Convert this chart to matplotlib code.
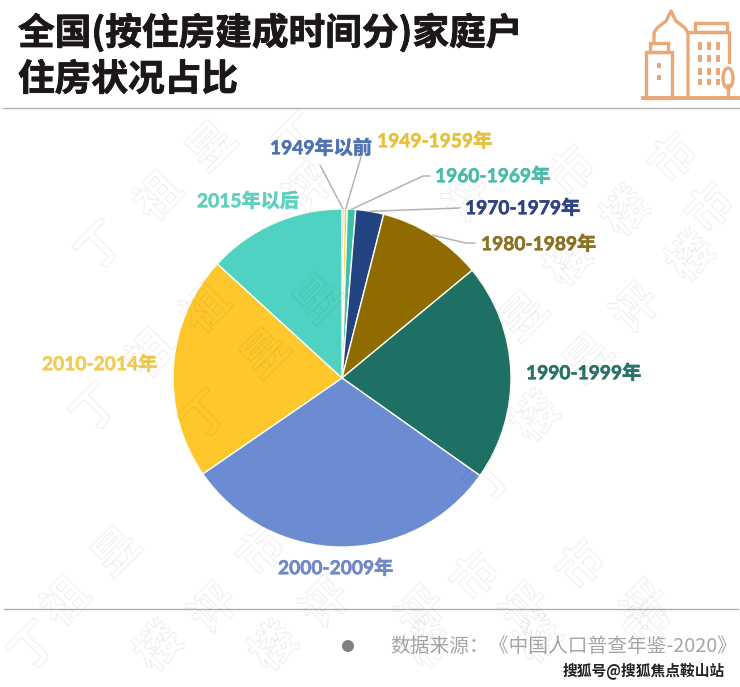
import numpy as np
import matplotlib
matplotlib.use("Agg")
import matplotlib.pyplot as plt
import matplotlib.patheffects as pe
from matplotlib.patches import Rectangle, Ellipse, Circle

plt.rcParams['font.family'] = ['Lato', 'Noto Sans CJK SC', 'DejaVu Sans']

categories = ['1949年以前', '1949-1959年', '1960-1969年', '1970-1979年', '1980-1989年',
              '1990-1999年', '2000-2009年', '2010-2014年', '2015年以后']
values = [0.2, 0.3, 0.8, 2.67, 10.03, 20.8, 30.6, 21.4, 13.2]
colors = ['#3f62a8', '#f7d038', '#3fbfae', '#234483', '#8f6b00',
          '#1f7064', '#6b8cd3', '#fec82c', '#50d2c2']
label_colors = ['#4f72b0', '#e8c13a', '#4cbcaa', '#2f4480', '#8c7225',
                '#2b7268', '#7189c4', '#f0cd58', '#5fd0bd']
label_left = [270, 377, 435, 465, 481, 526, 278, 42, 197]
label_y = [148, 141, 176, 208, 244, 373, 568, 364, 201]
# leader line: knee end near the label, in pixels (None = no leader)
leader_end = [(320, 165), (361, 157), (430, 176), (460, 208), (475, 243), None, None, None, None]
leader_knee = [None, None, (423, 176), None, (466, 243), None, None, None, None]

title_lines = ['全国(按住房建成时间分)家庭户', '住房状况占比']
source = '数据来源：《中国人口普查年鉴-2020》'
credit = '搜狐号@搜狐焦点鞍山站'

W, H = 740, 687
CX, CY, R = 342, 378, 169
fig = plt.figure(figsize=(W / 100, H / 100), dpi=100, facecolor='white')

ax = fig.add_axes([(CX - R) / W, 1 - (CY + R) / H, 2 * R / W, 2 * R / H])
wedges, _ = ax.pie(values, colors=colors, startangle=90, counterclock=False, radius=1,
                   wedgeprops=dict(edgecolor='#fbfbef', linewidth=1.0))
ax.set_xlim(-1, 1)
ax.set_ylim(-1, 1)
ax.set_aspect('equal')

ov = fig.add_axes([0, 0, 1, 1], facecolor='none')
ov.set_xlim(0, W)
ov.set_ylim(H, 0)
ov.axis('off')

# rules
ov.plot([3, 740], [108, 108], color='#b0b0b0', lw=1.0)
ov.plot([4, 738], [609, 609], color='#b0b0b0', lw=1.0)

# title
for txt, y in zip(title_lines, [33, 80]):
    ov.text(18, y, txt, fontsize=26.4, fontweight='bold', color='#1c1718',
            va='center', ha='left', family=['Noto Sans CJK SC', 'DejaVu Sans'],
            path_effects=[pe.withStroke(linewidth=0.6, foreground='#1c1718')])

# labels and leaders
for w, c, x, y, col, end, knee in zip(wedges, categories, label_left, label_y,
                                      label_colors, leader_end, leader_knee):
    ov.text(x, y, c, fontsize=13.8, fontweight='bold', color=col, ha='left', va='center',
            path_effects=[pe.withStroke(linewidth=0.4, foreground=col)])
    if end is not None:
        a = np.deg2rad((w.theta1 + w.theta2) / 2)
        p = (CX + R * np.cos(a), CY - R * np.sin(a))
        pts = [p] + ([knee] if knee else []) + [end]
        ov.plot(*zip(*pts), color='#b4b4b4', lw=1.1, zorder=1, solid_capstyle='round')

# footer
ov.add_patch(Circle((348, 646), 6, color='#808080', lw=0))
ov.text(390, 646, source, fontsize=14.2, color='#a6a6a6', ha='left', va='center',
        family=['Noto Sans CJK SC', 'DejaVu Sans'])
ov.text(563, 671, credit, fontsize=10.6, color='#222222', ha='left', va='center',
        fontweight='bold', family=['Noto Sans CJK SC', 'DejaVu Sans'])

# icon
ic = '#e9a877'
lw = 2.4
def box(x0, y0, x1, y1):
    ov.add_patch(Rectangle((x0, y0), x1 - x0, y1 - y0, fill=False, ec=ic, lw=lw))
def win(x0, y0, x1, y1):
    ov.add_patch(Rectangle((x0, y0), x1 - x0, y1 - y0, fc=ic, ec='none'))
ov.plot([643, 738], [98, 98], color=ic, lw=lw + 0.4)
box(646, 52, 672, 98)
box(650, 43, 668, 52)
ov.plot([654, 654, 657, 666, 671, 671, 676, 685, 688, 688],
        [43, 33, 28, 21, 11, 11, 21, 28, 33, 98], color=ic, lw=lw, solid_joinstyle='round')
ov.plot([689, 729, 729], [32, 32, 62], color=ic, lw=lw)
box(695, 23, 727, 32)
for x in [698, 707, 716]:
    for y0, y1 in [(42, 50), (55, 62), (68, 75), (79, 85)]:
        win(x, y0, x + 4, y1)
win(657, 63, 661, 68)
win(657, 75, 661, 80)
ov.add_patch(Ellipse((728, 78), 10, 20, fill=False, ec=ic, lw=lw))
ov.plot([728, 728], [85, 98], color=ic, lw=lw)

# faint hollow watermark
marks = [('昱', 213, 148), ('祖', 160, 198), ('丁', 102, 248), ('祖', 207, 310), ('祖', 152, 355),
         ('昱', 267, 355), ('评', 310, 190), ('昱', 320, 300), ('丁', 207, 417), ('丁', 97, 410),
         ('昱', 118, 553), ('祖', 67, 603), ('评', 215, 610), ('楼', 160, 648), ('楼', 275, 648),
         ('评', 327, 605), ('市', 263, 553), ('丁', 35, 648), ('市', 477, 578), ('市', 583, 567),
         ('楼', 537, 418), ('评', 527, 610), ('评', 647, 607), ('评', 423, 613), ('丁', 492, 480),
         ('楼', 627, 213), ('市', 675, 160), ('市', 573, 173), ('楼', 570, 263), ('楼', 692, 258),
         ('评', 637, 310), ('昱', 525, 318), ('昱', 590, 360), ('市', 712, 210), ('楼', 430, 645),
         ('楼', 540, 640), ('市', 650, 625), ('评', 470, 200), ('丁', 300, 140)]
for ch, x, y in marks:
    ov.text(x, y, ch, fontsize=33, rotation=45, ha='center', va='center', fontweight='bold',
            color=(1, 1, 1, 0), family=['Noto Sans CJK SC', 'DejaVu Sans'], zorder=5,
            path_effects=[pe.Stroke(linewidth=0.7, foreground=(0, 0, 0, 0.07))])

fig.savefig('out.png', dpi=100)
